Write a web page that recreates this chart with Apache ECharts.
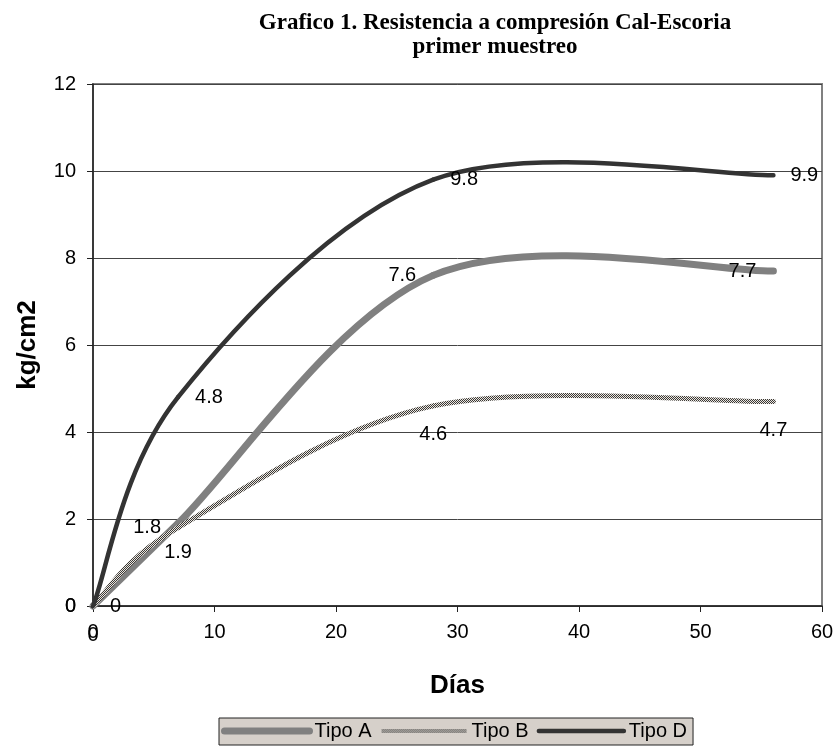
<!DOCTYPE html>
<html>
<head>
<meta charset="utf-8">
<script src="https://cdn.jsdelivr.net/npm/echarts@6/dist/echarts.min.js"></script>
<style>
  html, body { margin: 0; padding: 0; background: #ffffff; }
  #chart { width: 837px; height: 749px; }
</style>
</head>
<body>
<div id="chart"></div>
<script>
// Compressive strength (kg/cm2) by curing age (days)
const dias = [0, 7, 28, 56];
const tipoA = [0, 1.9, 7.6, 7.7];
const tipoB = [0, 1.8, 4.6, 4.7];
const tipoD = [0, 4.8, 9.8, 9.9];
const seriesNames = ['Tipo A', 'Tipo B', 'Tipo D'];
const titleLines = ['Grafico 1. Resistencia a compresión Cal-Escoria', 'primer muestreo'];
const xAxisName = 'Días';
const yAxisName = 'kg/cm2';

// Where each value label sits relative to its point
const labelPosA = ['bottom', 'bottom', 'left', 'left'];
const labelPosB = ['left', 'left', 'bottom', 'bottom'];
const labelPosD = ['right', 'right', 'right', 'right'];

const FONT = '"Liberation Sans", Arial, sans-serif';

// Fine checkered texture used for the Tipo B line
function checkerPattern() {
  const c = document.createElement('canvas');
  c.width = 2; c.height = 2;
  const g = c.getContext('2d');
  g.fillStyle = '#ebe7e1';
  g.fillRect(0, 0, 2, 2);
  g.fillStyle = '#3a3836';
  g.fillRect(0, 0, 1, 1);
  g.fillRect(1, 1, 1, 1);
  return { image: c, repeat: 'repeat' };
}

const styleA = { color: '#808080', width: 7 };
const styleB = { color: checkerPattern(), width: 5 };
const styleD = { color: '#333333', width: 4.5 };

function buildData(values, positions) {
  return values.map((v, i) => ({
    value: [dias[i], v],
    label: {
      position: positions[i],
      distance: positions[i] === 'bottom' ? 18 : 16
    }
  }));
}

// Points and value labels (the visible curve is drawn by the custom series below)
function pointSeries(name, values, positions, style, z) {
  return {
    name: name,
    type: 'line',
    data: buildData(values, positions),
    symbol: 'circle',
    symbolSize: 2,
    itemStyle: { color: 'rgba(0,0,0,0)' },
    lineStyle: { color: style.color, width: 0 },
    label: {
      show: true,
      color: '#000',
      fontFamily: FONT,
      fontSize: 20,
      formatter: p => String(p.value[1])
    },
    emphasis: { disabled: true },
    silent: true,
    z: z + 1
  };
}

// Smoothed curve: cubic Bezier segments whose control points follow
// the neighbouring points (tangent = (next - prev) / 6), in screen space.
function curveSeries(name, values, style, z) {
  return {
    name: name + ' (curva)',
    type: 'custom',
    data: values.map((v, i) => [dias[i], v]),
    encode: { x: 0, y: 1 },
    silent: true,
    z: z,
    renderItem: function (params, api) {
      const i = params.dataIndexInside;
      const n = params.dataInsideLength;
      if (i >= n - 1) return null;
      const pt = j => {
        const k = Math.max(0, Math.min(n - 1, j));
        return api.coord([api.value(0, k), api.value(1, k)]);
      };
      const p0 = pt(i - 1), p1 = pt(i), p2 = pt(i + 1), p3 = pt(i + 2);
      return {
        type: 'bezierCurve',
        shape: {
          x1: p1[0], y1: p1[1],
          x2: p2[0], y2: p2[1],
          cpx1: p1[0] + (p2[0] - p0[0]) / 6,
          cpy1: p1[1] + (p2[1] - p0[1]) / 6,
          cpx2: p2[0] - (p3[0] - p1[0]) / 6,
          cpy2: p2[1] - (p3[1] - p1[1]) / 6
        },
        style: {
          fill: null,
          stroke: style.color,
          lineWidth: style.width,
          lineCap: 'round'
        }
      };
    }
  };
}

const chart = echarts.init(document.getElementById('chart'), null, { renderer: 'canvas' });

chart.setOption({
  animation: false,
  backgroundColor: '#ffffff',
  title: {
    text: titleLines.join('\n'),
    left: 490,
    top: 6,
    textAlign: 'center',
    textStyle: {
      fontFamily: '"Liberation Serif", "Times New Roman", serif',
      fontWeight: 'bold',
      fontSize: 23,
      lineHeight: 24,
      color: '#000'
    }
  },
  grid: {
    left: 93,
    right: 15,
    top: 84,
    bottom: 143,
    show: true,
    borderColor: '#808080',
    borderWidth: 2,
    backgroundColor: '#ffffff'
  },
  xAxis: {
    type: 'value',
    min: 0,
    max: 60,
    interval: 10,
    name: xAxisName,
    nameLocation: 'middle',
    nameGap: 67,
    nameTextStyle: { fontFamily: FONT, fontWeight: 'bold', fontSize: 26, color: '#000' },
    axisLine: { show: true, onZero: false, lineStyle: { color: '#222', width: 1.5 } },
    axisTick: { show: true, inside: false, length: 6, lineStyle: { color: '#222' } },
    axisLabel: { fontFamily: FONT, fontSize: 20, color: '#000', margin: 16 },
    splitLine: { show: false }
  },
  yAxis: {
    type: 'value',
    min: 0,
    max: 12,
    interval: 2,
    name: yAxisName,
    nameLocation: 'middle',
    nameRotate: 90,
    nameGap: 52,
    nameTextStyle: { fontFamily: FONT, fontWeight: 'bold', fontSize: 26, color: '#000' },
    axisLine: { show: true, onZero: false, lineStyle: { color: '#222', width: 1.5 } },
    axisTick: { show: true, inside: false, length: 6, lineStyle: { color: '#222' } },
    axisLabel: { fontFamily: FONT, fontSize: 20, color: '#000', margin: 17 },
    splitLine: { show: true, lineStyle: { color: '#444', width: 1 } }
  },
  legend: {
    data: [
      { name: seriesNames[0], lineStyle: { color: styleA.color, width: styleA.width, cap: 'round' } },
      { name: seriesNames[1], lineStyle: { color: styleB.color, width: 4, cap: 'butt' } },
      { name: seriesNames[2], lineStyle: { color: styleD.color, width: styleD.width, cap: 'round' } }
    ],
    left: 219,
    top: 718,
    orient: 'horizontal',
    backgroundColor: '#d6d0ca',
    borderColor: '#222',
    borderWidth: 1,
    padding: [3, 6, 4, 2],
    itemWidth: 85,
    itemHeight: 18,
    itemGap: 8,
    itemStyle: { opacity: 0 },
    textStyle: { fontFamily: FONT, fontSize: 20, color: '#000' },
    selectedMode: false
  },
  series: [
    curveSeries(seriesNames[0], tipoA, styleA, 2),
    curveSeries(seriesNames[1], tipoB, styleB, 3),
    curveSeries(seriesNames[2], tipoD, styleD, 4),
    pointSeries(seriesNames[0], tipoA, labelPosA, styleA, 5),
    pointSeries(seriesNames[1], tipoB, labelPosB, styleB, 5),
    pointSeries(seriesNames[2], tipoD, labelPosD, styleD, 5)
  ]
});
</script>
</body>
</html>
